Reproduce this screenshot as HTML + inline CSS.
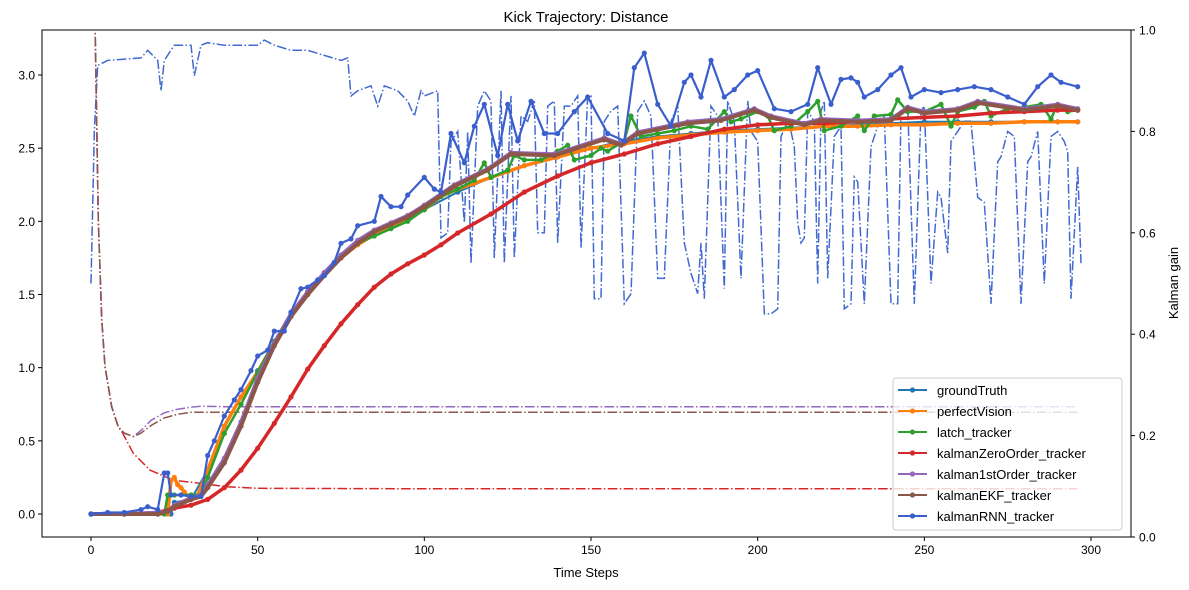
<!DOCTYPE html>
<html><head><meta charset="utf-8">
<style>
body{margin:0;background:#fff;}
svg{display:block;font-family:"Liberation Sans","DejaVu Sans",sans-serif;}
</style></head>
<body>
<svg id="chart" width="1189" height="590" viewBox="0 0 1189 590">
<defs><clipPath id="clip"><rect x="42" y="30" width="1089" height="507"/></clipPath></defs>
<rect x="0" y="0" width="1189" height="590" fill="#fff"/>
<text x="586" y="22" text-anchor="middle" font-size="15">Kick Trajectory: Distance</text>
<g id="marks" clip-path="url(#clip)"></g>
<rect x="42" y="30" width="1089" height="507" fill="none" stroke="#000" stroke-width="1"/>
<g id="axes"></g>
<text x="586" y="577" text-anchor="middle" font-size="13">Time Steps</text>
<text transform="translate(1178,283) rotate(-90)" text-anchor="middle" font-size="13">Kalman gain</text>
<g id="legend"></g>
</svg>
<script>
// ---- data ----
const xTicks = [0,50,100,150,200,250,300];
const yTicksLeft = [0.0,0.5,1.0,1.5,2.0,2.5,3.0];
const yTicksRight = [0.0,0.2,0.4,0.6,0.8,1.0];
const seriesNames = ["groundTruth","perfectVision","latch_tracker","kalmanZeroOrder_tracker","kalman1stOrder_tracker","kalmanEKF_tracker","kalmanRNN_tracker"];

const gtSteps = [0,10,20,24,25,30,35,40,45,50,55,60,65,70,75,80,85,90,95,100,110,120,130,140,150,160,170,180,190,200,210,220,230,240,250,260,270,280,290,296];
const gtVals  = [0,0,0,0,0.08,0.1,0.3,0.6,0.8,0.98,1.18,1.36,1.5,1.65,1.76,1.85,1.92,1.97,2.02,2.08,2.2,2.3,2.38,2.45,2.5,2.55,2.58,2.6,2.62,2.63,2.64,2.65,2.66,2.67,2.68,2.68,2.68,2.68,2.68,2.68];

const pvSteps = [0,10,20,23,24,25,26,27,28,30,32,35,40,45,50,55,60,65,70,75,80,85,90,95,100,105,110,115,120,125,130,140,150,160,170,180,190,200,210,220,230,240,250,260,270,280,290,296];
const pvVals  = [0,0,0,0,0.23,0.25,0.2,0.18,0.15,0.1,0.13,0.3,0.6,0.8,0.97,1.17,1.35,1.5,1.64,1.75,1.84,1.91,1.96,2.02,2.08,2.17,2.22,2.26,2.3,2.34,2.38,2.44,2.5,2.53,2.57,2.59,2.61,2.62,2.63,2.65,2.65,2.66,2.66,2.67,2.67,2.68,2.68,2.68];

const latchSteps = [0,10,20,22,23,25,30,33,35,40,45,50,55,60,65,70,75,80,85,90,95,100,105,110,115,118,120,125,127,130,135,140,143,145,150,153,155,160,162,165,170,175,180,185,190,192,195,200,203,205,210,215,218,220,225,230,232,235,240,242,245,250,255,258,260,265,268,270,275,280,285,288,290,293,296];
const latchVals  = [0,0,0,0,0.13,0.13,0.13,0.13,0.25,0.55,0.75,0.97,1.18,1.37,1.52,1.63,1.76,1.85,1.9,1.95,2.0,2.08,2.17,2.22,2.28,2.4,2.3,2.35,2.45,2.42,2.42,2.48,2.52,2.42,2.45,2.5,2.48,2.55,2.72,2.58,2.6,2.62,2.65,2.63,2.75,2.68,2.7,2.75,2.72,2.62,2.65,2.75,2.82,2.62,2.65,2.72,2.62,2.72,2.73,2.83,2.75,2.75,2.8,2.65,2.75,2.78,2.82,2.72,2.77,2.78,2.8,2.7,2.8,2.75,2.76];

const zoSteps = [0,10,20,25,30,35,40,45,50,55,60,65,70,75,80,85,90,95,100,105,110,120,130,140,150,160,170,180,190,200,210,220,230,240,250,260,270,280,290,296];
const zoVals  = [0,0,0.01,0.04,0.06,0.1,0.18,0.3,0.45,0.62,0.8,0.99,1.15,1.3,1.43,1.55,1.64,1.71,1.77,1.84,1.92,2.05,2.2,2.31,2.4,2.46,2.53,2.58,2.63,2.66,2.67,2.67,2.68,2.7,2.71,2.72,2.74,2.75,2.76,2.76];

const k1Steps = [0,10,20,23,25,30,33,35,40,45,50,55,60,65,70,75,80,85,90,95,100,109,119,126,139,154,159,164,179,189,199,204,214,219,230,240,245,250,260,266,280,290,296];
const k1Vals  = [0,0,0.01,0.02,0.06,0.11,0.13,0.2,0.38,0.63,0.93,1.17,1.37,1.52,1.65,1.77,1.87,1.94,1.99,2.04,2.11,2.25,2.36,2.47,2.46,2.57,2.53,2.61,2.68,2.7,2.77,2.72,2.67,2.7,2.69,2.7,2.78,2.75,2.77,2.82,2.77,2.8,2.77];

const ekfSteps = [0,10,20,23,25,30,33,35,40,45,50,55,60,65,70,75,80,85,90,95,100,109,119,126,139,154,159,164,179,189,199,204,214,219,230,240,245,250,260,266,280,290,296];
const ekfVals  = [0,0,0,0.02,0.05,0.1,0.12,0.18,0.35,0.6,0.9,1.15,1.35,1.5,1.63,1.75,1.85,1.93,1.98,2.03,2.1,2.24,2.35,2.46,2.45,2.56,2.52,2.6,2.67,2.69,2.76,2.71,2.66,2.69,2.68,2.69,2.77,2.74,2.76,2.81,2.76,2.79,2.76];

const rnnSteps = [0,5,10,15,17,20,22,23,24,27,30,33,35,37,40,43,45,48,50,53,55,58,60,63,65,68,70,73,75,78,80,85,87,90,93,95,100,103,105,108,112,115,118,122,125,128,132,136,140,145,149,155,160,163,166,170,174,178,180,183,186,190,193,197,200,205,210,215,218,222,225,228,230,232,236,240,243,246,250,255,260,265,270,275,280,284,288,291,296];
const rnnVals  = [0,0.01,0.01,0.03,0.05,0.03,0.28,0.28,0.13,0.13,0.12,0.12,0.4,0.5,0.67,0.78,0.85,0.98,1.08,1.12,1.25,1.25,1.38,1.54,1.55,1.6,1.63,1.72,1.85,1.88,1.97,2.0,2.17,2.1,2.1,2.18,2.3,2.22,2.2,2.6,2.4,2.65,2.8,2.45,2.8,2.55,2.82,2.6,2.6,2.75,2.85,2.6,2.55,3.05,3.15,2.8,2.65,2.95,3.0,2.85,3.1,2.85,2.9,3.0,3.03,2.77,2.75,2.8,3.05,2.8,2.97,2.98,2.95,2.85,2.9,3.0,3.05,2.85,2.9,2.88,2.9,2.92,2.9,2.85,2.8,2.92,3.0,2.95,2.92];

// Kalman gains (right axis)
const gainRnnSteps = [0,1,2,5,15,17,20,21,22,25,30,31,33,35,40,50,52,55,60,65,70,75,77,78,80,84,86,88,92,95,97,99,100,104,105,107,108,110,112,113,114,116,118,120,121,123,124,126,127,129,131,133,134,136,137,139,140,142,144,146,147,149,150,151,153,154,156,158,160,162,164,166,168,170,172,174,176,178,180,182,183,184,186,188,190,191,193,195,197,198,200,202,204,206,207,209,210,211,212,213,214,215,217,218,219,220,221,223,225,226,228,229,230,232,234,236,238,240,242,243,245,247,249,250,252,254,255,257,258,260,262,264,266,268,270,272,273,275,277,279,281,282,284,286,288,290,292,293,294,296,297];
const gainRnnVals  = [0.5,0.8,0.93,0.94,0.945,0.96,0.94,0.88,0.94,0.97,0.97,0.91,0.97,0.975,0.97,0.97,0.98,0.97,0.96,0.96,0.95,0.94,0.945,0.87,0.88,0.89,0.85,0.89,0.88,0.86,0.83,0.88,0.87,0.88,0.59,0.6,0.78,0.8,0.62,0.8,0.54,0.85,0.88,0.86,0.55,0.88,0.54,0.87,0.55,0.83,0.82,0.86,0.6,0.6,0.85,0.86,0.58,0.85,0.85,0.87,0.57,0.87,0.87,0.47,0.47,0.82,0.84,0.85,0.46,0.48,0.84,0.86,0.83,0.51,0.51,0.82,0.85,0.58,0.52,0.48,0.58,0.47,0.85,0.83,0.49,0.86,0.82,0.51,0.86,0.8,0.78,0.44,0.44,0.45,0.79,0.82,0.8,0.77,0.62,0.58,0.59,0.84,0.82,0.5,0.84,0.86,0.51,0.79,0.81,0.45,0.46,0.71,0.7,0.46,0.77,0.81,0.83,0.46,0.46,0.84,0.85,0.46,0.84,0.85,0.5,0.68,0.67,0.56,0.78,0.8,0.82,0.82,0.67,0.66,0.46,0.74,0.75,0.8,0.79,0.46,0.74,0.75,0.8,0.5,0.79,0.8,0.78,0.76,0.47,0.73,0.54];

const gainEkfSteps = [0,1.2,2.2,3.2,4.2,6.2,8.2,10,12.7,15,18,22,26,30,40,100,200,296];
const gainEkfVals  = [1.3,1.02,0.625,0.43,0.336,0.257,0.217,0.205,0.198,0.205,0.22,0.235,0.242,0.246,0.246,0.246,0.246,0.246];

const gain1Steps = [0,1.2,2.2,3.2,4.2,6.2,8.2,10,12.7,15,18,22,26,30,33,40,100,200,296];
const gain1Vals  = [1.3,1.02,0.625,0.43,0.336,0.257,0.217,0.205,0.198,0.21,0.23,0.245,0.252,0.256,0.258,0.257,0.257,0.257,0.257];

const gainZoSteps = [0,1.2,2.2,3.2,4.2,6.2,8.2,9.5,12.7,17.7,24.7,32.7,40.7,50,100,200,296];
const gainZoVals  = [1.3,1.02,0.625,0.43,0.336,0.257,0.217,0.205,0.165,0.132,0.112,0.106,0.099,0.096,0.095,0.095,0.095];

// ---- scales ----
const X = s => 91 + s*1000/300;
const YL = v => 514 - v*146.33;
const YR = g => 537 - g*507;
const NS = "http://www.w3.org/2000/svg";
const marks = document.getElementById('marks');
const axes = document.getElementById('axes');
const legend = document.getElementById('legend');
function mk(tag, attrs, parent){const e=document.createElementNS(NS,tag);for(const k in attrs)e.setAttribute(k,attrs[k]);parent.appendChild(e);return e;}

function drawGain(steps, vals, color, name){
  const pts = steps.map((s,i)=>X(s).toFixed(1)+','+YR(vals[i]).toFixed(1)).join(' ');
  const pl = mk('polyline',{points:pts,fill:'none',stroke:color,'stroke-width':1.5,'stroke-dasharray':'9.6,2.4,1.5,2.4'},marks);
  
  
}
function drawSeries(steps, vals, color, name, w){
  const g = mk('g',{},marks);
  
  
  const pts = steps.map((s,i)=>X(s).toFixed(1)+','+YL(vals[i]).toFixed(1)).join(' ');
  mk('polyline',{points:pts,fill:'none',stroke:color,'stroke-width':w,'stroke-linejoin':'round'},g);
  steps.forEach((s,i)=>{
    const c = mk('circle',{cx:X(s).toFixed(1),cy:YL(vals[i]).toFixed(1),r:2.6,fill:color},g);
    
    
  });
}

drawGain(gainRnnSteps, gainRnnVals, '#4169d0', 'rnn-gain-line');
drawGain(gainZoSteps, gainZoVals, '#d62728', 'zeroorder-gain-line');
drawGain(gain1Steps, gain1Vals, '#9467bd', 'kalman1st-gain-line');
drawGain(gainEkfSteps, gainEkfVals, '#8c564b', 'ekf-gain-line');

const colors = ['#1f77b4','#ff7f0e','#2ca02c','#d62728','#9467bd','#8c564b','#3a5fcd'];
drawSeries(gtSteps, gtVals, colors[0], 'groundtruth-series', 2);
drawSeries(pvSteps, pvVals, colors[1], 'perfectvision-series', 3.5);
drawSeries(latchSteps, latchVals, colors[2], 'latch-tracker-series', 2.5);
drawSeries(zoSteps, zoVals, colors[3], 'zeroorder-tracker-series', 3.5);
drawSeries(k1Steps, k1Vals, colors[4], 'kalman1st-tracker-series', 3.5);
drawSeries(ekfSteps, ekfVals, colors[5], 'ekf-tracker-series', 4);
drawSeries(rnnSteps, rnnVals, colors[6], 'rnn-tracker-series', 2.2);

// ---- axes ----
xTicks.forEach(t=>{
  const x = X(t);
  const l = mk('line',{x1:x,x2:x,y1:537,y2:541,stroke:'#000'},axes);
  
  
  const tx = mk('text',{x:x,y:554,'text-anchor':'middle','font-size':12},axes);
  tx.textContent = t;
  
  
});
yTicksLeft.forEach(t=>{
  const y = YL(t);
  const l = mk('line',{x1:38,x2:42,y1:y,y2:y,stroke:'#000'},axes);
  
  
  const tx = mk('text',{x:35,y:y+4.5,'text-anchor':'end','font-size':12},axes);
  tx.textContent = t.toFixed(1);
  
  
});
yTicksRight.forEach(t=>{
  const y = YR(t);
  const l = mk('line',{x1:1131,x2:1135,y1:y,y2:y,stroke:'#000'},axes);
  
  
  const tx = mk('text',{x:1139,y:y+4.5,'text-anchor':'start','font-size':12},axes);
  tx.textContent = t.toFixed(1);
  
  
});

// ---- legend ----
const lb = mk('rect',{x:893,y:378,width:229,height:152,rx:3,fill:'#fff','fill-opacity':0.8,stroke:'#ccc'},legend);


seriesNames.forEach((n,i)=>{
  const y = 390 + i*21;
  const g = mk('g',{},legend);
  
  
  mk('line',{x1:898,x2:927,y1:y,y2:y,stroke:colors[i],'stroke-width':2},g);
  mk('circle',{cx:912.5,cy:y,r:2.6,fill:colors[i]},g);
  const t = mk('text',{x:937,y:y+5,'font-size':13},g);
  t.textContent = n;
});
</script>
</body></html>
